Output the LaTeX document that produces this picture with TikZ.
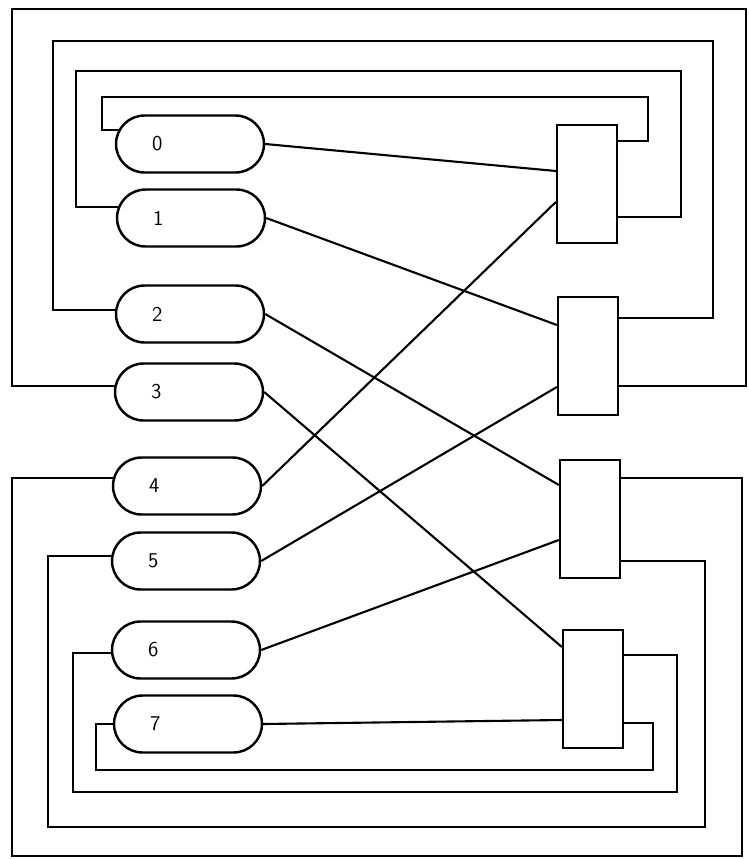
\documentclass[tikz,border=0pt]{standalone}
\usepackage{tikz}
\usetikzlibrary{backgrounds}
\begin{document}
\begin{tikzpicture}[x=0.02cm,y=-0.02cm,
  pill/.style={draw,line width=1.4pt,fill=white,rounded corners=0.57cm,minimum width=2.96cm,
    minimum height=1.14cm,text width=1.52cm,inner xsep=0.72cm,align=left,
    font=\sffamily\fontsize{12}{14}\selectfont},
  box/.style={draw,line width=1.3pt,fill=white,minimum width=1.2cm,minimum height=2.36cm},
  wire/.style={line width=1.2pt}
]
  \useasboundingbox (0,0) rectangle (749,859);
  \node[pill] (p0) at (190,144) {0};
  \node[pill] (p1) at (191,218) {1};
  \node[pill] (p2) at (190,314) {2};
  \node[pill] (p3) at (189,392) {3};
  \node[pill] (p4) at (187,486) {4};
  \node[pill] (p5) at (186,561) {5};
  \node[pill] (p6) at (186,650) {6};
  \node[pill] (p7) at (188,724) {7};
  \node[box] (r0) at (587,184) {};
  \node[box] (r1) at (588,356) {};
  \node[box] (r2) at (590,519) {};
  \node[box] (r3) at (593,689) {};
  \draw[wire] (p0.east) -- (r0.west |- 0,171);
  \draw[wire] (p1.east) -- (r1.west |- 0,325);
  \draw[wire] (p2.east) -- (r2.west |- 0,485);
  \draw[wire] (p3.east) -- (r3.west |- 0,647);
  \draw[wire] (p4.east) -- (r0.west |- 0,202);
  \draw[wire] (p5.east) -- (r1.west |- 0,387);
  \draw[wire] (p6.east) -- (r2.west |- 0,540);
  \draw[wire] (p7.east) -- (r3.west |- 0,720);
  \begin{scope}[on background layer]
    \draw[wire] (p0.center |- 0,130) -| (102,97) -| (648,141) -- (r0.east |- 0,141);
    \draw[wire] (p1.center |- 0,207) -| (76,71) -| (681,217) -- (r0.east |- 0,217);
    \draw[wire] (p2.center |- 0,310) -| (53,41) -| (713,318) -- (r1.east |- 0,318);
    \draw[wire] (p3.center |- 0,386) -| (12,9) -| (746,386) -- (r1.east |- 0,386);
    \draw[wire] (p4.center |- 0,478) -| (12,856) -| (742,478) -- (r2.east |- 0,478);
    \draw[wire] (p5.center |- 0,556) -| (48,827) -| (705,561) -- (r2.east |- 0,561);
    \draw[wire] (p6.center |- 0,653) -| (73,792) -| (677,655) -- (r3.east |- 0,655);
    \draw[wire] (p7.center |- 0,724) -| (96,770) -| (653,723) -- (r3.east |- 0,723);
  \end{scope}
\end{tikzpicture}
\end{document}
